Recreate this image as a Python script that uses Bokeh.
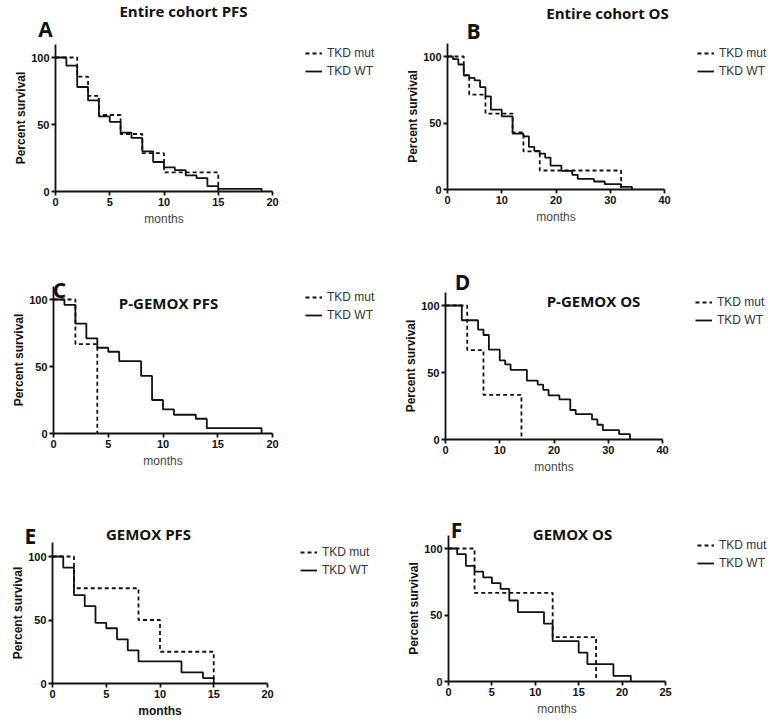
from bokeh.plotting import figure
from bokeh.models import Label, FixedTicker, Range1d
from bokeh.layouts import column, row
from bokeh.embed import file_html
from bokeh.resources import INLINE

# ---------------- data (months, percent survival) ----------------
A_mut_t = [0, 2, 3, 4, 6, 8, 10, 15]
A_mut_s = [100, 85.7, 71.4, 57.1, 42.9, 28.6, 14.3, 0]
A_wt_t = [0, 1, 2, 3, 4, 5, 6, 7, 8, 9, 10, 11, 12, 13, 14, 15, 19]
A_wt_s = [100, 94, 78, 68, 56, 52, 44, 40, 30, 22, 18, 16, 12, 10, 4, 2, 0]

B_mut_t = [0, 3, 4, 7, 12, 14, 17, 32]
B_mut_s = [100, 85.7, 71.4, 57.1, 42.9, 28.6, 14.3, 0]
B_wt_t = [0, 1, 2, 3, 4, 5, 6, 7, 8, 10, 12, 14, 15, 16, 17, 18, 19, 21, 23, 24, 27, 29, 32, 34]
B_wt_s = [100, 98, 94, 86, 84, 82, 77, 70, 60, 55, 42, 40, 32, 29, 27, 24, 18, 14, 11, 8, 6, 4, 2, 0]

C_mut_t = [0, 2, 4]
C_mut_s = [100, 66.7, 0]
C_wt_t = [0, 1, 2, 3, 4, 5, 6, 8, 9, 10, 11, 13, 14, 19]
C_wt_s = [100, 96, 82, 71, 64, 61, 54, 43, 25, 18, 14, 11, 4, 0]

D_mut_t = [0, 4, 7, 14]
D_mut_s = [100, 66.7, 33.3, 0]
D_wt_t = [0, 3, 6, 7, 8, 10, 11, 12, 15, 17, 18, 19, 21, 23, 24, 27, 28, 29, 32, 34]
D_wt_s = [100, 89, 82, 78, 67, 59, 56, 52, 44, 41, 37, 33, 30, 22, 19, 15, 11, 7, 4, 0]

E_mut_t = [0, 2, 8, 10, 15]
E_mut_s = [100, 75, 50, 25, 0]
E_wt_t = [0, 1, 2, 3, 4, 5, 6, 7, 8, 12, 14, 15]
E_wt_s = [100, 91.3, 69.6, 60.9, 47.8, 43.5, 34.8, 26.1, 17.4, 8.7, 4.3, 0]

F_mut_t = [0, 3, 12, 17]
F_mut_s = [100, 66.7, 33.3, 0]
F_wt_t = [0, 1, 2, 3, 4, 5, 6, 7, 8, 11, 12, 15, 16, 19, 21]
F_wt_s = [100, 95.7, 87, 82.6, 78.3, 73.9, 69.6, 60.9, 52.2, 43.5, 30.4, 21.7, 13, 4.3, 0]

A_xticks = [0, 5, 10, 15, 20]
B_xticks = [0, 10, 20, 30, 40]
F_xticks = [0, 5, 10, 15, 20, 25]
Y_ticks = [0, 50, 100]

titles = ["Entire cohort PFS", "Entire cohort OS", "P-GEMOX PFS", "P-GEMOX OS", "GEMOX PFS", "GEMOX OS"]
letters = ["A", "B", "C", "D", "E", "F"]
legend_labels = ["TKD mut", "TKD WT"]

INK = "#111111"


def panel(mut_t, mut_s, wt_t, wt_s, xticks, W, H, geo, letter, lpos, title, tpos, gpos,
          months_bold=False, ytop=110):
    # geo: pixel (from figure's top-left) of data x=0, x=xmax, y=0, y=100
    px0, px1, py0, py100 = geo
    xmax = xticks[-1]
    kx = xmax / (px1 - px0)
    ky = 100.0 / (py0 - py100)
    xr = Range1d(-px0 * kx, xmax + (W - px1) * kx)
    yr = Range1d(-(H - py0) * ky, 100 + py100 * ky)

    p = figure(frame_width=W, frame_height=H, min_border=0,
               min_border_left=0, min_border_right=0, min_border_top=0, min_border_bottom=0,
               x_range=xr, y_range=yr, output_backend="svg", toolbar_location=None)
    p.outline_line_color = None
    p.xgrid.grid_line_color = None
    p.ygrid.grid_line_color = None
    p.background_fill_color = "white"
    p.border_fill_color = "white"

    p.step(mut_t, mut_s, mode="after", line_dash="4 3", line_width=1.8,
           line_color=INK, legend_label=legend_labels[0])
    p.step(wt_t, wt_s, mode="after", line_width=1.8,
           line_color=INK, legend_label=legend_labels[1])

    p.xaxis.ticker = FixedTicker(ticks=xticks)
    p.yaxis.ticker = FixedTicker(ticks=Y_ticks)
    p.xaxis.fixed_location = 0
    p.yaxis.fixed_location = 0
    p.xaxis.bounds = (0, xmax)
    p.yaxis.bounds = (0, ytop)
    for ax in (p.xaxis[0], p.yaxis[0]):
        ax.axis_line_width = 1.8
        ax.axis_line_color = INK
        ax.major_tick_line_width = 1.8
        ax.major_tick_line_color = INK
        ax.major_tick_out = 4
        ax.major_tick_in = 0
        ax.minor_tick_line_color = None
        ax.major_label_text_font = "Liberation Sans"
        ax.major_label_text_font_style = "bold"
        ax.major_label_text_font_size = "11px"
        ax.major_label_text_color = INK
        ax.major_label_standoff = 2
        ax.axis_label_text_font = "Liberation Sans"
        ax.axis_label_text_font_size = "12px"
    p.yaxis.axis_label_standoff = 0
    p.xaxis.axis_label_standoff = 3
    p.yaxis.axis_label = "Percent survival"
    p.yaxis.axis_label_text_font_style = "bold"
    p.yaxis.axis_label_text_color = INK
    p.xaxis.axis_label = "months"
    if months_bold:
        p.xaxis.axis_label_text_font_style = "bold"
        p.xaxis.axis_label_text_color = INK
    else:
        p.xaxis.axis_label_text_font_style = "normal"
        p.xaxis.axis_label_text_color = "#444444"

    # legend: gpos = (left of glyph, centre y of first item), pixels from top-left
    lg = p.legend[0]
    lg.location = (gpos[0], H - (gpos[1] - 7) - 32)
    lg.border_line_color = None
    lg.background_fill_alpha = 0
    lg.padding = 0
    lg.margin = 0
    lg.spacing = 4
    lg.glyph_width = 17
    lg.glyph_height = 14
    lg.label_height = 14
    lg.label_standoff = 5
    lg.label_text_font = "Liberation Sans"
    lg.label_text_font_size = "12px"
    lg.label_text_color = "#333333"

    p.add_layout(Label(x=lpos[0], y=H - lpos[1], x_units="screen", y_units="screen", text=letter,
                       text_font="Open Sans", text_font_style="bold", text_font_size="21px",
                       text_align="center", text_baseline="middle", text_color=INK))
    p.add_layout(Label(x=tpos[0], y=H - tpos[1], x_units="screen", y_units="screen", text=title,
                       text_font="Open Sans", text_font_style="bold", text_font_size="15px",
                       text_align="center", text_baseline="middle", text_color=INK))
    return p


pA = panel(A_mut_t, A_mut_s, A_wt_t, A_wt_s, A_xticks, 390, 240, (55, 272, 191, 57),
           letters[0], (45, 28), titles[0], (183, 10), (305, 53))
pB = panel(B_mut_t, B_mut_s, B_wt_t, B_wt_s, B_xticks, 388, 240, (57, 274, 189, 56),
           letters[1], (83, 30), titles[1], (217, 12), (307, 53))
pC = panel(C_mut_t, C_mut_s, C_wt_t, C_wt_s, A_xticks, 390, 238, (53, 272, 193, 59),
           letters[2], (59, 49), titles[2], (168, 62), (305, 57))
pD = panel(D_mut_t, D_mut_s, D_wt_t, D_wt_s, B_xticks, 388, 238, (55, 272, 199, 65),
           letters[3], (72, 41), titles[3], (203, 60), (305, 62))
pE = panel(E_mut_t, E_mut_s, E_wt_t, E_wt_s, A_xticks, 390, 248, (52, 267, 205, 78),
           letters[4], (30, 57), titles[4], (148, 55), (300, 74), months_bold=True, ytop=111)
pF = panel(F_mut_t, F_mut_s, F_wt_t, F_wt_s, F_xticks, 388, 248, (58, 275, 203, 70),
           letters[5], (66, 51), titles[5], (182, 55), (307, 67))

layout = column(row(pA, pB), row(pC, pD), row(pE, pF))

with open("out.html", "w") as f:
    f.write(file_html(layout, INLINE))
